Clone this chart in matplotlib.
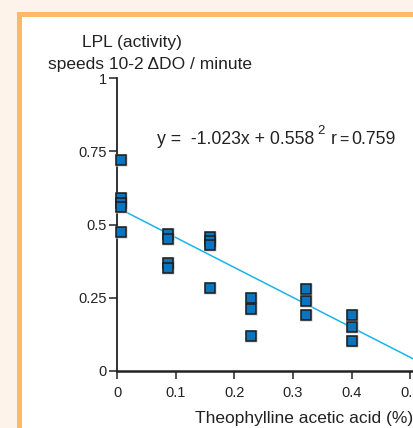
import matplotlib.pyplot as plt
from matplotlib.patches import Rectangle

plt.rcParams['font.family'] = ['Liberation Sans', 'DejaVu Sans']

# Data
conc = [0.007, 0.007, 0.007, 0.007, 0.007,
        0.087, 0.087, 0.087, 0.087,
        0.158, 0.158, 0.158, 0.158,
        0.228, 0.228, 0.228,
        0.323, 0.323, 0.323,
        0.401, 0.401, 0.401]
lpl = [0.72, 0.59, 0.575, 0.56, 0.475,
       0.467, 0.452, 0.367, 0.352,
       0.459, 0.444, 0.431, 0.282,
       0.25, 0.21, 0.121,
       0.279, 0.24, 0.191,
       0.191, 0.15, 0.102]
slope, intercept = -1.023, 0.558
fit_x = [0, 0.51]

W, H = 413, 428
fig = plt.figure(figsize=(W / 100, H / 100), dpi=100)
fig.patch.set_facecolor('#fef3ea')

# orange frame with white panel
fig.patches.append(Rectangle((17 / W, 0), 2, (H - 12) / H, transform=fig.transFigure,
                             facecolor='#fdb868', edgecolor='none', zorder=-2))
fig.patches.append(Rectangle((22 / W, 0), 2, (H - 17) / H, transform=fig.transFigure,
                             facecolor='white', edgecolor='none', zorder=-1))

ax = fig.add_axes([117 / W, 57 / H, 0.51 * 586.6 / W, 293 / H])
ax.set_facecolor('none')
ax.set_xlim(0, 0.51)
ax.set_ylim(0, 1)

fy = [slope * x + intercept for x in fit_x]
ax.plot(fit_x, fy, color='#1ab4e8', lw=1.1, zorder=2, clip_on=False)

# soft shadow behind squares
ax.plot(conc, lpl, 's', ms=8.8, color='#c8c8c8', mec='none', ls='none', zorder=3, clip_on=False)
ax.plot(conc, lpl, 's', ms=7.2, mfc='#0a74bd', mec='#1c1c1c', mew=1.1, ls='none',
        zorder=4, clip_on=False)

for s in ['top', 'right']:
    ax.spines[s].set_visible(False)
ax.spines['left'].set_linewidth(1.3)
ax.spines['bottom'].set_linewidth(1.8)
ax.spines['left'].set_color('#222222')
ax.spines['bottom'].set_color('#222222')

ax.set_xticks([0, 0.1, 0.2, 0.3, 0.4, 0.5])
ax.set_xticklabels(['0', '0.1', '0.2', '0.3', '0.4', '0.5'])
ax.set_yticks([0, 0.25, 0.5, 0.75, 1])
ax.set_yticklabels(['0', '0.25', '0.5', '0.75', '1'])
ax.tick_params(direction='out', length=6, width=1.1, color='#222222',
               labelsize=10.5, labelcolor='#222222')
ax.tick_params(axis='x', pad=5)
ax.tick_params(axis='y', pad=1.5)

fig.text(132 / W, 1 - 43 / H, 'LPL (activity)', ha='center', va='center', fontsize=12.5, color='#222222')
fig.text(150 / W, 1 - 64 / H, 'speeds 10-2 \u0394DO / minute', ha='center', va='center',
         fontsize=12.5, color='#222222')
fig.text(413 / W, 1 - 418 / H, 'Theophylline acetic acid (%)', ha='right', va='center',
         fontsize=12.5, color='#222222')

# regression equation, pieces placed one after another
r = fig.canvas.get_renderer()
t1 = fig.text(157 / W, 1 - 139 / H, 'y =  -1.023x + 0.558', ha='left', va='center',
              fontsize=12.7, color='#222222')
x1 = t1.get_window_extent(r).x1
t2 = fig.text((x1 + 3) / W, 1 - 131 / H, '2', ha='left', va='center', fontsize=9.5, color='#222222')
x2 = t2.get_window_extent(r).x1
t3 = fig.text((x2 + 6) / W, 1 - 139 / H, 'r', ha='left', va='center', fontsize=12.7, color='#222222')
x3 = t3.get_window_extent(r).x1
t4 = fig.text((x3 + 3) / W, 1 - 140 / H, '=', ha='left', va='center', fontsize=11.5, color='#222222')
x4 = t4.get_window_extent(r).x1
fig.text((x4 + 3) / W, 1 - 139 / H, '0.759', ha='left', va='center', fontsize=12.7, color='#222222')

fig.savefig('out.png', dpi=100, facecolor=fig.get_facecolor())
